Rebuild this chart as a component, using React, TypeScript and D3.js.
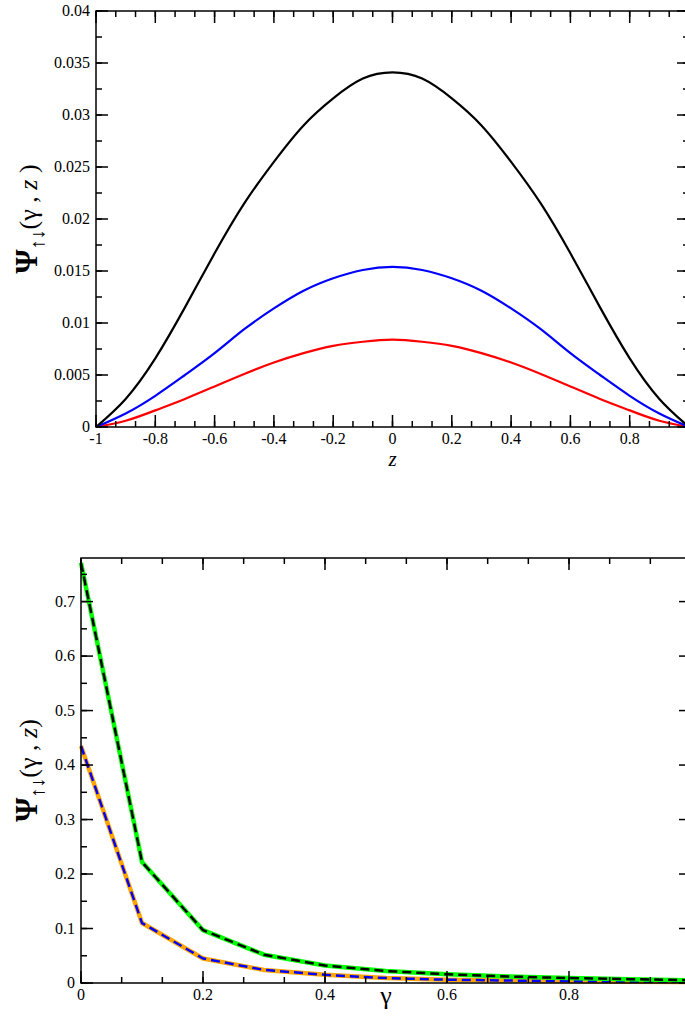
import React from "react";
import * as d3 from "d3";

// Upper panel: Ψ(γ, z) profiles versus z for three γ values
const zValues = [-1, -0.9, -0.8, -0.7, -0.6, -0.5, -0.4, -0.3, -0.2, -0.1, 0, 0.1, 0.2, 0.3, 0.4, 0.5, 0.6, 0.7, 0.8, 0.9, 1];
const psiBlack = [0, 0.0027, 0.0066, 0.0115, 0.0167, 0.0215, 0.0255, 0.029, 0.0316, 0.0335, 0.0341, 0.0335, 0.0316, 0.029, 0.0255, 0.0215, 0.0167, 0.0115, 0.0066, 0.0027, 0];
const psiBlue = [0, 0.0013, 0.003, 0.005, 0.0071, 0.0094, 0.0114, 0.0131, 0.0143, 0.0151, 0.0154, 0.0151, 0.0143, 0.0131, 0.0114, 0.0094, 0.0071, 0.005, 0.003, 0.0013, 0];
const psiRed = [0, 0.0006, 0.0016, 0.0027, 0.0039, 0.0051, 0.0062, 0.0071, 0.0078, 0.0082, 0.0084, 0.0082, 0.0078, 0.0071, 0.0062, 0.0051, 0.0039, 0.0027, 0.0016, 0.0006, 0];
const topXTicks = [-1, -0.8, -0.6, -0.4, -0.2, 0, 0.2, 0.4, 0.6, 0.8];
const topXTickLabels = ["-1", "-0.8", "-0.6", "-0.4", "-0.2", "0", "0.2", "0.4", "0.6", "0.8"];
const topYTicks = [0, 0.005, 0.01, 0.015, 0.02, 0.025, 0.03, 0.035, 0.04];
const topYTickLabels = ["0", "0.005", "0.01", "0.015", "0.02", "0.025", "0.03", "0.035", "0.04"];

// Lower panel: Ψ(γ, z) versus γ at two z values
const gammaValues = [0, 0.1, 0.2, 0.3, 0.4, 0.5, 0.6, 0.7, 0.8, 0.9, 1];
const psiUpper = [0.771, 0.222, 0.097, 0.052, 0.032, 0.022, 0.016, 0.012, 0.009, 0.007, 0.005];
const psiLower = [0.435, 0.11, 0.045, 0.024, 0.015, 0.009, 0.006, 0.0045, 0.0035, 0.0025, 0.002];
const botXTicks = [0, 0.2, 0.4, 0.6, 0.8];
const botXTickLabels = ["0", "0.2", "0.4", "0.6", "0.8"];
const botYTicks = [0, 0.1, 0.2, 0.3, 0.4, 0.5, 0.6, 0.7];
const botYTickLabels = ["0", "0.1", "0.2", "0.3", "0.4", "0.5", "0.6", "0.7"];

const FONT = '"Liberation Serif"';

type Box = { left: number; right: number; top: number; bottom: number };

function Frame({ frame, x, y, xMajor, xMinorStep, yMajor, yMinorStep }: {
  frame: Box;
  x: d3.ScaleLinear<number, number>;
  y: d3.ScaleLinear<number, number>;
  xMajor: number[];
  xMinorStep: number;
  yMajor: number[];
  yMinorStep: number;
}) {
  const [x0, x1] = x.domain();
  const [y0, y1] = y.domain();
  const xMinor: number[] = [];
  for (let i = 0; x0 + i * xMinorStep <= x1 + 1e-9; i++) xMinor.push(x0 + i * xMinorStep);
  const yMinor: number[] = [];
  for (let i = 0; y0 + i * yMinorStep <= y1 + 1e-9; i++) yMinor.push(y0 + i * yMinorStep);
  const MAJ = 12;
  const MIN = 6;
  const ticks: React.ReactElement[] = [];
  xMinor.forEach((v, i) => {
    const px = x(v);
    ticks.push(<line key={`xb${i}`} x1={px} x2={px} y1={frame.bottom} y2={frame.bottom - MIN} />);
    ticks.push(<line key={`xt${i}`} x1={px} x2={px} y1={frame.top} y2={frame.top + MIN} />);
  });
  xMajor.forEach((v, i) => {
    const px = x(v);
    ticks.push(<line key={`XB${i}`} x1={px} x2={px} y1={frame.bottom} y2={frame.bottom - MAJ} />);
    ticks.push(<line key={`XT${i}`} x1={px} x2={px} y1={frame.top} y2={frame.top + MAJ} />);
  });
  yMinor.forEach((v, i) => {
    const py = y(v);
    ticks.push(<line key={`yl${i}`} x1={frame.left} x2={frame.left + MIN} y1={py} y2={py} />);
    ticks.push(<line key={`yr${i}`} x1={frame.right} x2={frame.right - MIN} y1={py} y2={py} />);
  });
  yMajor.forEach((v, i) => {
    const py = y(v);
    ticks.push(<line key={`YL${i}`} x1={frame.left} x2={frame.left + MAJ} y1={py} y2={py} />);
    ticks.push(<line key={`YR${i}`} x1={frame.right} x2={frame.right - MAJ} y1={py} y2={py} />);
  });
  return (
    <g stroke="#000" strokeWidth={1.5} fill="none">
      {ticks}
      <rect x={frame.left} y={frame.top} width={frame.right - frame.left} height={frame.bottom - frame.top} />
    </g>
  );
}

function YLabel({ cx, cy, closing }: { cx: number; cy: number; closing: string }) {
  return (
    <text
      transform={`translate(${cx},${cy}) rotate(-90)`}
      textAnchor="middle"
      style={{ fontFamily: FONT, fontSize: 26, whiteSpace: "pre" }}
    >
      <tspan style={{ fontWeight: "bold", fontSize: 31 }}>Ψ</tspan>
      <tspan style={{ fontSize: 20 }} dy={7}>↑↓</tspan>
      <tspan dy={-7}>(γ , </tspan>
      <tspan style={{ fontStyle: "italic" }}>z</tspan>
      <tspan>{closing}</tspan>
    </text>
  );
}

export default function App() {
  const W = 685;
  const H = 1032;

  // upper panel
  const fTop: Box = { left: 96, right: 689, top: 11, bottom: 427 };
  const xTop = d3.scaleLinear().domain([-1, 1]).range([fTop.left, fTop.right]);
  const yTop = d3.scaleLinear().domain([0, 0.04]).range([fTop.bottom, fTop.top]);
  const lineTop = d3
    .line<number>()
    .x((_, i) => xTop(zValues[i]))
    .y((d) => yTop(d))
    .curve(d3.curveNatural);

  // lower panel
  const fBot: Box = { left: 81, right: 691, top: 558, bottom: 983 };
  const xBot = d3.scaleLinear().domain([0, 1]).range([fBot.left, fBot.right]);
  const yBot = d3.scaleLinear().domain([0, 0.78]).range([fBot.bottom, fBot.top]);
  const lineBot = d3
    .line<number>()
    .x((_, i) => xBot(gammaValues[i]))
    .y((d) => yBot(d));

  const tickText: React.CSSProperties = { fontFamily: FONT, fontSize: 16 };

  return (
    <svg
      width={W}
      height={H}
      style={{ position: "absolute", left: 0, top: 0, background: "#fff" }}
    >
      <rect width={W} height={H} fill="#fff" />

      {/* upper panel curves */}
      <g fill="none" strokeWidth={2.2} strokeLinejoin="round">
        <path d={lineTop(psiRed) ?? ""} stroke="#ff0000" />
        <path d={lineTop(psiBlue) ?? ""} stroke="#0000ff" />
        <path d={lineTop(psiBlack) ?? ""} stroke="#000000" />
      </g>
      <Frame frame={fTop} x={xTop} y={yTop} xMajor={topXTicks} xMinorStep={0.2 / 3} yMajor={topYTicks} yMinorStep={0.0025} />
      <g fill="#000">
        {topXTicks.map((v, i) => (
          <text key={i} x={xTop(v)} y={fTop.bottom + 17} textAnchor="middle" style={tickText}>{topXTickLabels[i]}</text>
        ))}
        {topYTicks.map((v, i) => (
          <text key={i} x={fTop.left - 6} y={yTop(v) + 5} textAnchor="end" style={tickText}>{topYTickLabels[i]}</text>
        ))}
      </g>
      <text x={xTop(0)} y={466} textAnchor="middle" style={{ fontFamily: FONT, fontSize: 21, fontStyle: "italic" }}>z</text>
      <YLabel cx={37} cy={(fTop.top + fTop.bottom) / 2} closing=" )" />

      {/* lower panel curves: solid underlay with dashed overlay */}
      <g fill="none" strokeLinejoin="round">
        <path d={lineBot(psiLower) ?? ""} stroke="#ffa500" strokeWidth={4.5} />
        <path d={lineBot(psiLower) ?? ""} stroke="#0000ff" strokeWidth={2.5} strokeDasharray="9,5" />
        <path d={lineBot(psiUpper) ?? ""} stroke="#00ff00" strokeWidth={4.5} />
        <path d={lineBot(psiUpper) ?? ""} stroke="#000000" strokeWidth={2.5} strokeDasharray="9,5" />
      </g>
      <Frame frame={fBot} x={xBot} y={yBot} xMajor={botXTicks} xMinorStep={0.2 / 3} yMajor={botYTicks} yMinorStep={0.05} />
      <g fill="#000">
        {botXTicks.map((v, i) => (
          <text key={i} x={xBot(v)} y={fBot.bottom + 17} textAnchor="middle" style={tickText}>{botXTickLabels[i]}</text>
        ))}
        {botYTicks.map((v, i) => (
          <text key={i} x={fBot.left - 6} y={yBot(v) + 5} textAnchor="end" style={tickText}>{botYTickLabels[i]}</text>
        ))}
      </g>
      <text x={xBot(0.5)} y={1004} textAnchor="middle" style={{ fontFamily: FONT, fontSize: 26 }}>γ</text>
      <YLabel cx={37} cy={(fBot.top + fBot.bottom) / 2} closing=")" />
    </svg>
  );
}
